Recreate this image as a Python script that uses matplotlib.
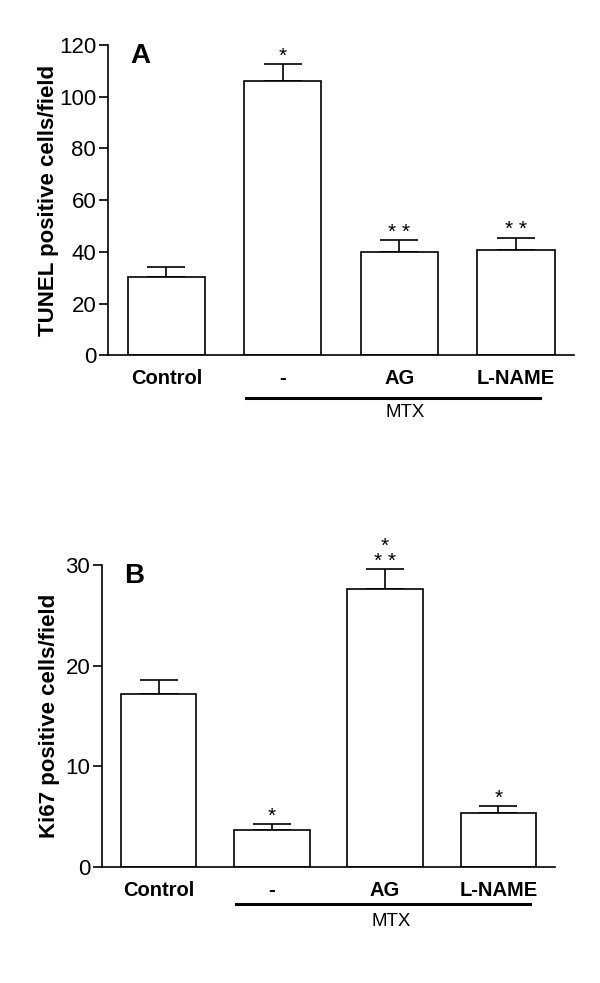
import matplotlib
matplotlib.use("Agg")
import matplotlib.pyplot as plt
import matplotlib.transforms as mtransforms

plt.rcParams['font.family'] = ['Liberation Sans', 'DejaVu Sans']

# data
groups = ["Control", "-", "AG", "L-NAME"]

tunel_mean = [30.2, 105.9, 39.9, 40.6]
tunel_sem = [4.1, 6.7, 4.5, 4.7]
tunel_marks = ["", "*", "* *", "* *"]
tunel_ticks = [0, 20, 40, 60, 80, 100, 120]

ki67_mean = [17.2, 3.7, 27.6, 5.3]
ki67_sem = [1.4, 0.55, 2.0, 0.73]
ki67_marks = ["", "*", "*\n* *", "*"]
ki67_ticks = [0, 10, 20, 30]


def panel(ax, means, sems, marks, ticks, ylabel, letter, off, line_y, line_x, txt_y, lpad):
    x = range(len(groups))
    ax.bar(x, means, width=0.665, color="white", edgecolor="black", linewidth=1.2, zorder=2)
    ax.errorbar(x, means, yerr=[[0] * len(sems), sems], fmt="none", ecolor="black",
                elinewidth=1.2, capsize=14, capthick=1.2, zorder=1)
    for xi, m, s, t in zip(x, means, sems, marks):
        if t:
            ax.text(xi, m + s + off, t, ha="center", va="bottom", fontsize=15,
                    linespacing=0.7)
    ax.set_xlim(-0.5, 3.5)
    ax.set_ylim(0, ticks[-1])
    ax.set_yticks(ticks)
    ax.set_xticks(list(x))
    ax.set_xticklabels(groups, fontweight="bold", fontsize=14.5)
    ax.tick_params(axis="x", length=0, pad=10)
    ax.tick_params(axis="y", length=6.5, width=1.2, labelsize=16, pad=2)
    for s in ["top", "right"]:
        ax.spines[s].set_visible(False)
    for s in ["left", "bottom"]:
        ax.spines[s].set_linewidth(1.2)
    ax.set_ylabel(ylabel, fontweight="bold", fontsize=16, labelpad=lpad)
    ax.text(0.07, 0.965, letter, transform=ax.transAxes, fontsize=20,
            fontweight="bold", va="center", ha="center")
    tr = mtransforms.blended_transform_factory(ax.transData, ax.transAxes)
    ax.plot(line_x, [line_y, line_y], color="black", lw=2.2, transform=tr, clip_on=False)
    ax.text(2.05, txt_y, "MTX", transform=tr, ha="center", va="center", fontsize=13.5)


fig = plt.figure(figsize=(6, 9.83), dpi=100)
axA = fig.add_axes([0.18, 0.6386, 0.7767, 0.3157])
axB = fig.add_axes([0.17, 0.1183, 0.755, 0.3069])

panel(axA, tunel_mean, tunel_sem, tunel_marks, tunel_ticks,
      "TUNEL positive cells/field", "A", -0.5, -0.138, [0.684, 3.21], -0.183, 0)
panel(axB, ki67_mean, ki67_sem, ki67_marks, ki67_ticks,
      "Ki67 positive cells/field", "B", -0.15, -0.124, [0.683, 3.28], -0.183, 4)

fig.savefig("out.png", dpi=100)
